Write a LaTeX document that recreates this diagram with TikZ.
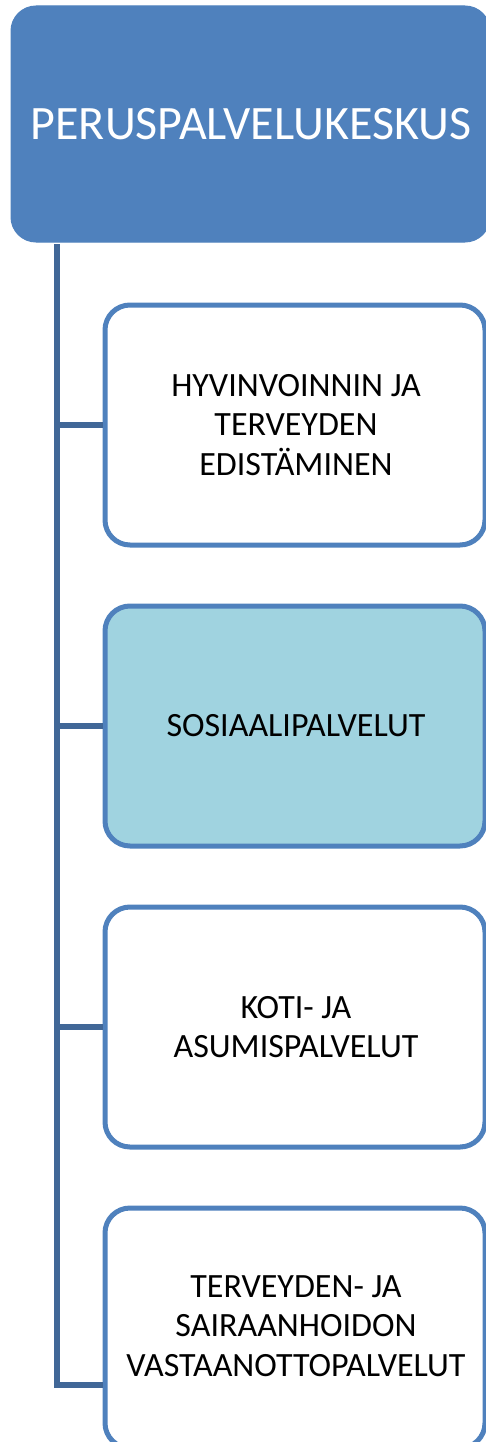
\documentclass[tikz,border=0pt]{standalone}
\usepackage{fontspec}
\setmainfont{Carlito}
\definecolor{headblue}{RGB}{79,129,189}
\definecolor{linkblue}{RGB}{65,103,151}
\definecolor{lightfill}{RGB}{160,211,224}
\begin{document}
\begin{tikzpicture}[x=1pt,y=-1pt,
  headbox/.style={draw=headblue,fill=headblue,rounded corners=25pt,line width=1pt},
  childbox/.style={draw=headblue,fill=white,rounded corners=25pt,line width=5pt},
  childtext/.style={align=center,font=\fontsize{34}{39.5}\selectfont,text=black},
  link/.style={draw=linkblue,line width=6pt}]
\useasboundingbox (0,0) rectangle (486,1442);
\clip (0,0) rectangle (486,1442);
% root
\path[headbox] (11,6) rectangle (490,242);
\node[text=white,font=\fontsize{48}{54}\selectfont] (root) at (251,124) {PERUSPALVELUKESKUS};
% children
\path[childbox] (105,305) rectangle (485,545);
\node[childtext] (c1) at (296,425) {HYVINVOINNIN JA\\TERVEYDEN\\EDISTÄMINEN};
\path[childbox,fill=lightfill] (105,606) rectangle (485,846);
\node[childtext] (c2) at (296,726) {SOSIAALIPALVELUT};
\path[childbox] (105,907) rectangle (485,1147);
\node[childtext] (c3) at (296,1027) {KOTI- JA\\ASUMISPALVELUT};
\path[childbox] (105,1208) rectangle (485,1448);
\node[childtext] (c4) at (296,1326) {TERVEYDEN- JA\\SAIRAANHOIDON\\VASTAANOTTOPALVELUT};
% connectors
\coordinate (top) at (57,244);
\coordinate (b1) at (57,425);
\coordinate (b2) at (57,726);
\coordinate (b3) at (57,1027);
\coordinate (b4) at (57,1385);
\coordinate (e4) at (103,1385);
\draw[link] (top) -- (b4) -- (e4);
\draw[link] (b1) -- (103,425);
\draw[link] (b2) -- (103,726);
\draw[link] (b3) -- (103,1027);
\end{tikzpicture}
\end{document}
